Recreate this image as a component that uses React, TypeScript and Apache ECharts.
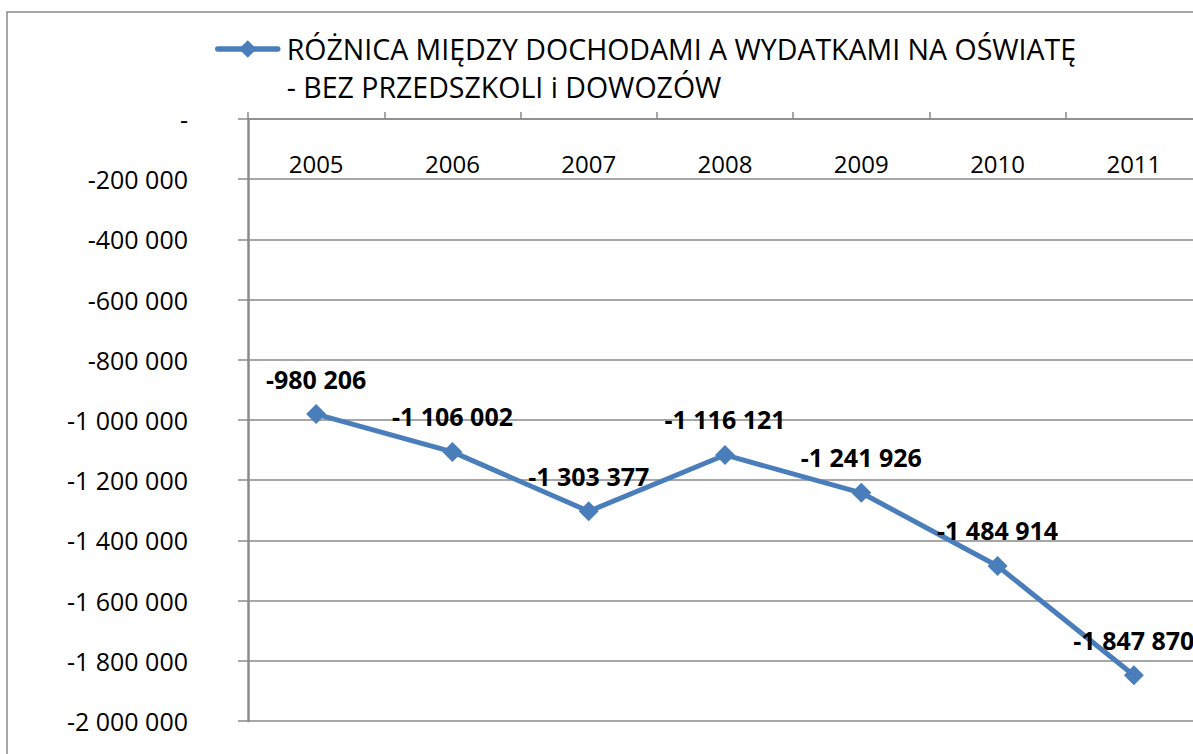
import React, { useEffect, useRef } from "react";
import * as echarts from "echarts";

const categories = ["2005", "2006", "2007", "2008", "2009", "2010", "2011"];
const values = [-980206, -1106002, -1303377, -1116121, -1241926, -1484914, -1847870];
const seriesName =
  "RÓŻNICA MIĘDZY DOCHODAMI A WYDATKAMI NA OŚWIATĘ\n- BEZ PRZEDSZKOLI i DOWOZÓW";
const yMin = -2000000;
const yMax = 0;
const yStep = 200000;

const FONT = "'Open Sans', 'Liberation Sans', sans-serif";
const GRAY = "#8a8a8a";
const BLUE = "#4a7ebb";

function fmt(v: number): string {
  if (v === 0) return "-";
  const s = Math.abs(Math.round(v)).toString().replace(/\B(?=(\d{3})+(?!\d))/g, " ");
  return (v < 0 ? "-" : "") + s;
}

export default function App() {
  const ref = useRef<HTMLDivElement>(null);
  useEffect(() => {
    if (!ref.current) return;
    const chart = echarts.init(ref.current, undefined, { renderer: "svg" });
    chart.setOption({
      animation: false,
      backgroundColor: "#ffffff",
      textStyle: { fontFamily: FONT },
      graphic: [
        {
          type: "rect",
          silent: true,
          z: -10,
          shape: { x: 7, y: 12, width: 1400, height: 1000 },
          style: { fill: "none", stroke: GRAY, lineWidth: 1.5 },
        },
      ],
      legend: {
        show: true,
        left: 215,
        top: -8,
        padding: 0,
        itemWidth: 60,
        itemHeight: 22,
        data: [seriesName],
        formatter: (name: string) => " \n" + name,
        lineStyle: { cap: "round", width: 5.5 },
        textStyle: {
          fontFamily: FONT,
          fontSize: 28.5,
          color: "#000",
          lineHeight: 38,
          padding: [0, 0, 0, 4],
        },
      },
      grid: { left: 248, right: 8, top: 119, bottom: 33, containLabel: false },
      xAxis: {
        type: "category",
        position: "top",
        data: categories,
        boundaryGap: true,
        axisLine: { show: true, lineStyle: { color: GRAY, width: 1.5 } },
        axisTick: { show: true, inside: false, length: 7, interval: 0, lineStyle: { color: GRAY, width: 1.5 } },
        axisLabel: {
          inside: true,
          margin: 32,
          interval: 0,
          color: "#000",
          fontFamily: FONT,
          fontSize: 24,
        },
        splitLine: { show: false },
      },
      yAxis: {
        type: "value",
        min: yMin,
        max: yMax,
        interval: yStep,
        axisLine: { show: true, lineStyle: { color: GRAY, width: 2.5 } },
        axisTick: { show: true, length: 10, lineStyle: { color: GRAY, width: 1.5 } },
        splitLine: { show: true, lineStyle: { color: GRAY, width: 1.5 } },
        axisLabel: {
          margin: 60,
          color: "#000",
          fontFamily: FONT,
          fontSize: 25,
          formatter: (v: number) => fmt(v),
        },
      },
      series: [
        {
          name: seriesName,
          type: "line",
          data: values,
          symbol: "diamond",
          symbolSize: 20,
          lineStyle: { color: BLUE, width: 5 },
          itemStyle: { color: BLUE },
          label: {
            show: true,
            position: "top",
            distance: 13,
            color: "#000",
            fontWeight: "bold",
            fontFamily: FONT,
            fontSize: 25,
            formatter: (p: any) => fmt(p.value),
          },
        },
      ],
    });
    return () => chart.dispose();
  }, []);
  return (
    <div
      style={{
        position: "absolute",
        left: 0,
        top: 0,
        width: 1193,
        height: 754,
        overflow: "hidden",
        background: "#fff",
      }}
    >
      <div ref={ref} style={{ width: 1210, height: 754 }} />
    </div>
  );
}
